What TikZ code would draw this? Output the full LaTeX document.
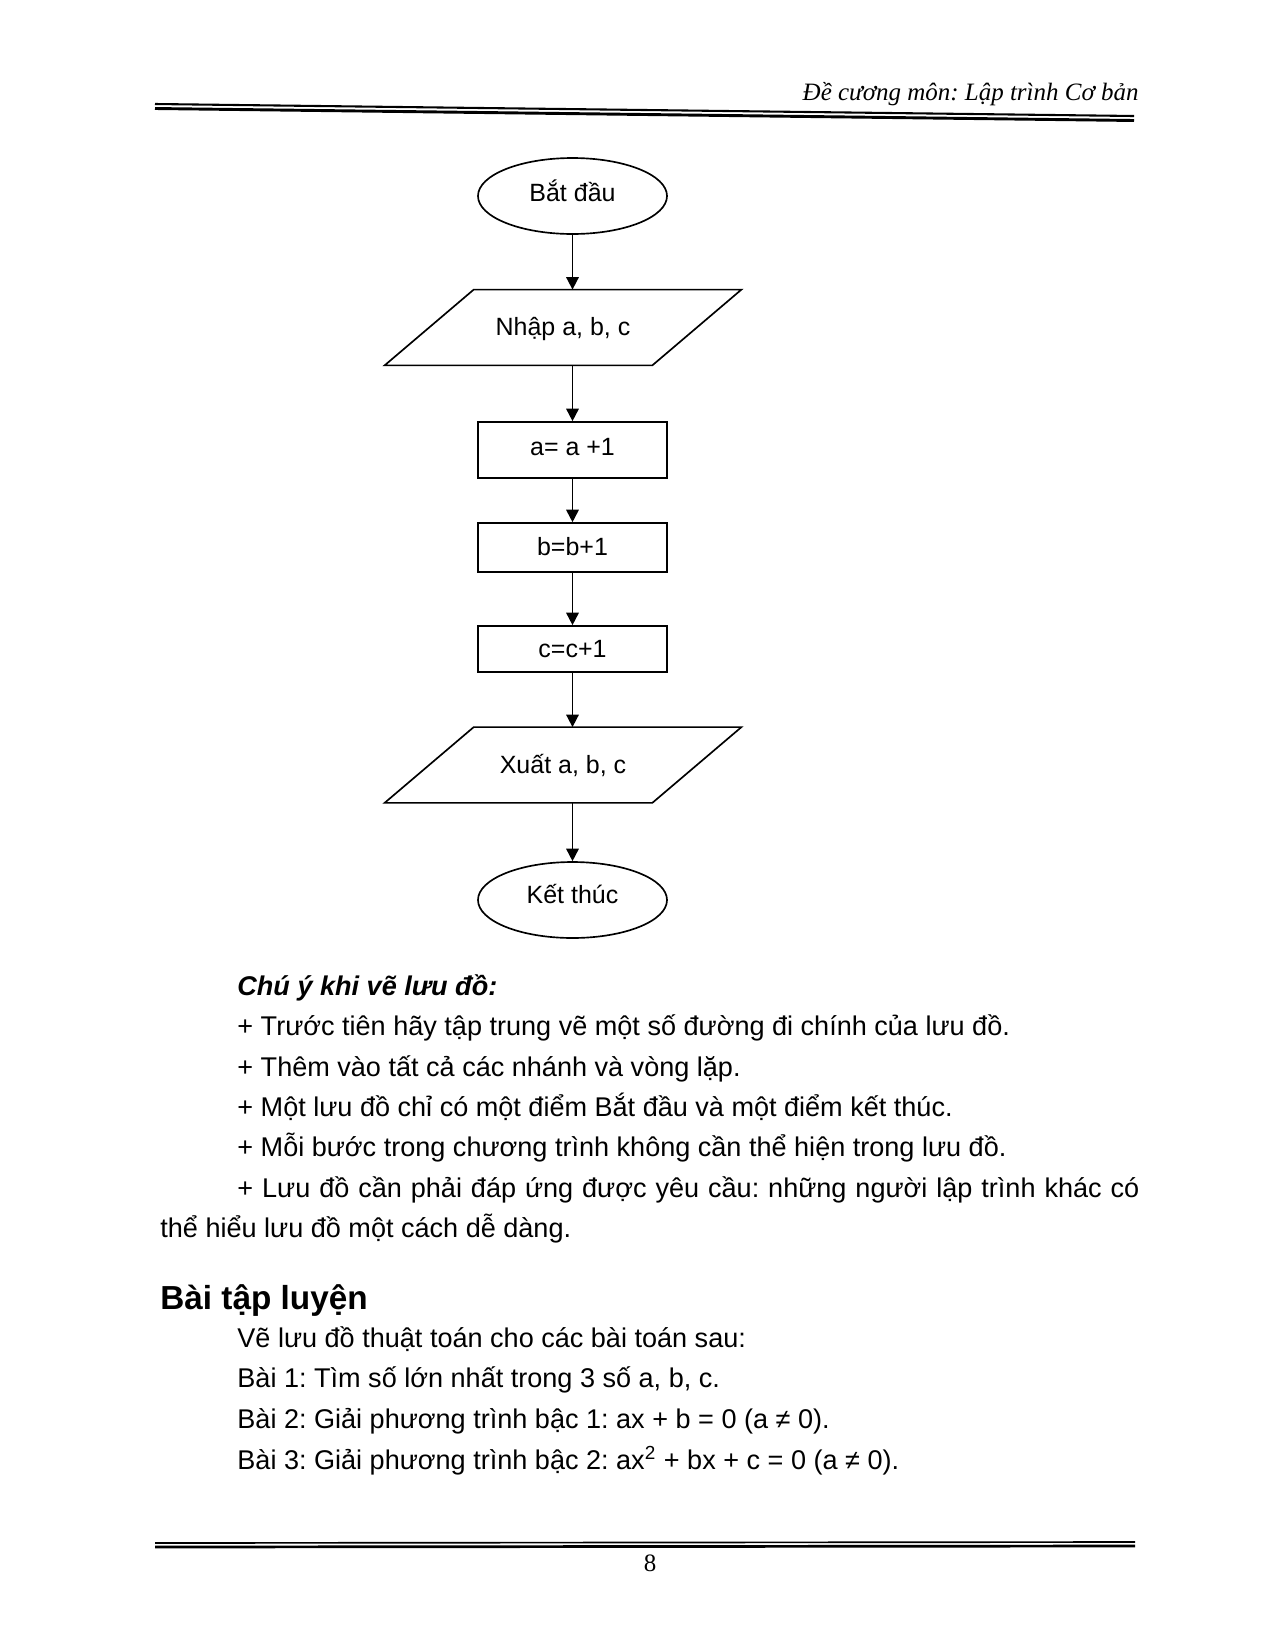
\documentclass[tikz,border=0pt]{standalone}
\usepackage{fontspec}
\setmainfont{Liberation Sans}
\newfontfamily\timesf{Liberation Serif}
\usetikzlibrary{arrows.meta,shapes.geometric}
\frenchspacing
\begin{document}
\begin{tikzpicture}[x=0.4804pt,y=-0.4804pt,
  box/.style={draw, line width=0.8pt, minimum width=90.8pt, inner sep=0pt,
    font=\fontsize{12}{14}\selectfont, text height=8pt, text depth=3.2pt},
  term/.style={box, ellipse, minimum height=36.5pt},
  io/.style={inner sep=0pt, minimum width=171pt, minimum height=36pt,
    font=\fontsize{12}{14}\selectfont, text height=8pt, text depth=0pt},
  iopath/.style={line width=0.8pt},
  flow/.style={line width=0.8pt, -{Triangle[length=6pt,width=6pt]}},
  body/.style={anchor=base west, inner sep=0pt, font=\fontsize{13}{19.5}\selectfont},
  rulethin/.style={line width=1pt},
  rulethick/.style={line width=1.4pt}
]
\useasboundingbox (0,0) rectangle (1274,1649);
\fill[white] (0,0) rectangle (1274,1649);

% header
\node[anchor=base east, inner sep=0pt, font=\timesf\itshape\fontsize{12}{14}\selectfont] (hd) at (1139,100) {Đề cương môn: Lập trình Cơ bản};
\draw[rulethin] (155,104) -- (1134,116);
\draw[rulethick] (155,108.5) -- (1134,120.5);

% flowchart
\node[term] (start) at (572.5,196) {Bắt đầu};
\node[io] (in) at (563,327.5) {Nhập a, b, c};
\draw[iopath] ([xshift=42.8pt]in.north west) -- (in.north east) -- ([xshift=-42.8pt]in.south east) -- (in.south west) -- cycle;
\node[box, minimum height=26.9pt] (a) at (572.5,450) {a= a +1};
\node[box, minimum height=23.5pt, text depth=0pt] (b) at (572.5,547.5) {b=b+1};
\node[box, minimum height=22.1pt, text depth=0pt] (c) at (572.5,649) {c=c+1};
\node[io] (out) at (563,765) {Xuất a, b, c};
\draw[iopath] ([xshift=42.8pt]out.north west) -- (out.north east) -- ([xshift=-42.8pt]out.south east) -- (out.south west) -- cycle;
\node[term, text depth=4.2pt] (end) at (572.5,900) {Kết thúc};

\draw[flow] (start.south) -- (start.south |- in.north);
\draw[flow] (start.south |- in.south) -- (a.north);
\draw[flow] (a.south) -- (b.north);
\draw[flow] (b.south) -- (c.north);
\draw[flow] (c.south) -- (c.south |- out.north);
\draw[flow] (c.south |- out.south) -- (end.north);

% notes
\node[body, font=\fontsize{13}{19.5}\selectfont\bfseries\itshape] (n0) at (237,995) {Chú ý khi vẽ lưu đồ:};
\node[body] (n1) at (237,1035) {+ Trước tiên hãy tập trung vẽ một số đường đi chính của lưu đồ.};
\node[body] (n2) at (237,1076) {+ Thêm vào tất cả các nhánh và vòng lặp.};
\node[body] (n3) at (237,1116) {+ Một lưu đồ chỉ có một điểm Bắt đầu và một điểm kết thúc.};
\node[body] (n4) at (237,1156) {+ Mỗi bước trong chương trình không cần thể hiện trong lưu đồ.};
\node[body] (n5) at (237,1197) {\makebox[433.3pt][s]{+ Lưu đồ cần phải đáp ứng được yêu cầu: những người lập trình khác có}};
\node[body] (n6) at (160,1237) {thể hiểu lưu đồ một cách dễ dàng.};

% exercises
\node[body, font=\fontsize{16}{19}\selectfont\bfseries] (h2) at (160,1309) {Bài tập luyện};
\node[body] (e0) at (237,1347) {Vẽ lưu đồ thuật toán cho các bài toán sau:};
\node[body] (e1) at (237,1387) {Bài 1: Tìm số lớn nhất trong 3 số a, b, c.};
\node[body] (e2) at (237,1428) {Bài 2: Giải phương trình bậc 1: ax + b = 0 (a ≠ 0).};
\node[body] (e3) at (237,1469) {Bài 3: Giải phương trình bậc 2: ax\textsuperscript{2} + bx + c = 0 (a ≠ 0).};

% footer
\draw[line width=0.8pt] (155,1543) -- (1135,1542);
\draw[line width=1.3pt] (155,1547) -- (1135,1546);
\node[anchor=base, inner sep=0pt, font=\timesf\fontsize{12}{14}\selectfont] (pg) at (650,1571) {8};
\end{tikzpicture}
\end{document}
